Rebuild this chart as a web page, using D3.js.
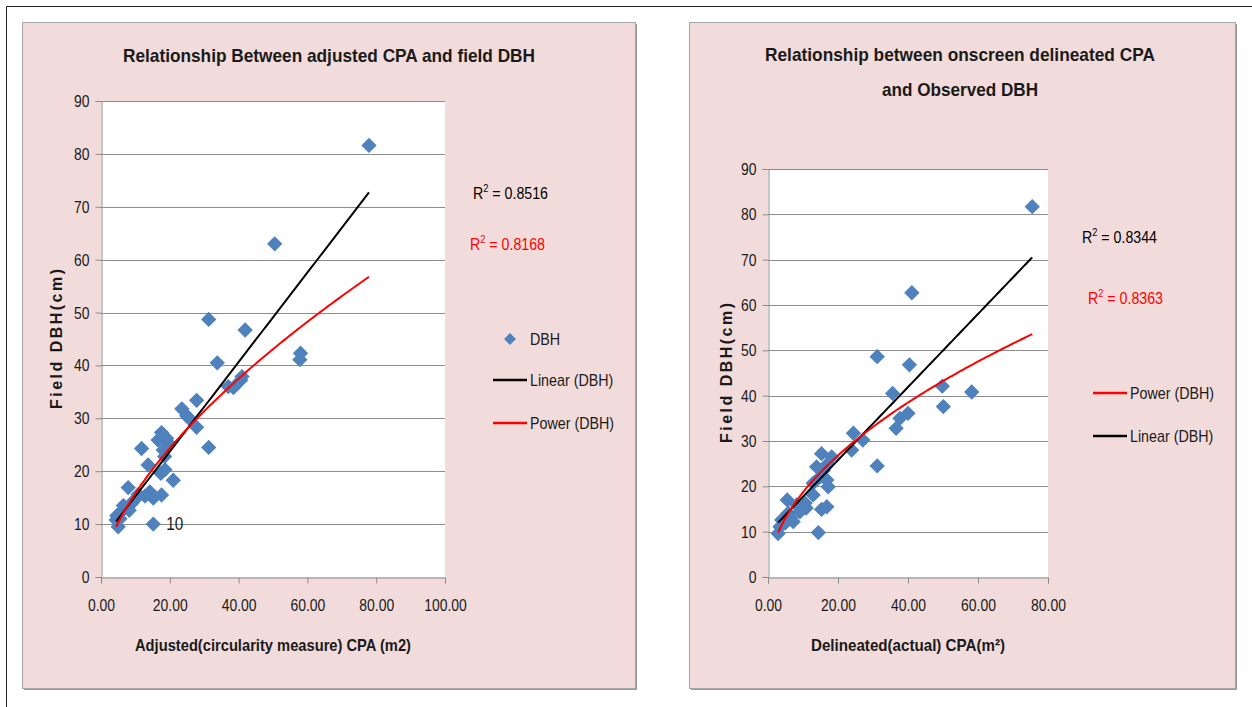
<!DOCTYPE html>
<html>
<head>
<meta charset="utf-8">
<script src="https://cdn.jsdelivr.net/npm/d3@7"></script>
<style>
  html, body { margin: 0; padding: 0; background: #ffffff; }
  svg { display: block; }
  text { font-family: "Liberation Sans", Arial, sans-serif; fill: #1a1a1a; }
</style>
</head>
<body>
<svg id="chart" width="1252" height="707"></svg>
<script>
// ---- Data: crown projection area (m2) vs DBH (cm) ----
const adjustedCPA = [77.9, 50.5, 31.3, 41.9, 33.8, 58.0, 57.8, 37.0, 38.5, 41.0, 40.6, 27.8, 23.5, 24.9,
  27.8, 31.3, 11.8, 17.6, 16.6, 19.1, 18.1, 13.7, 18.6, 17.4, 21.0, 7.9, 14.2, 17.6, 15.2, 12.8,
  10.8, 8.9, 7.0, 6.0, 4.6, 4.4, 5.0, 15.2, 18.5, 19.8, 8.2, 9.8, 6.5, 5.5, 25.6];
const adjustedDBH = [81.6, 63.0, 48.7, 46.7, 40.5, 42.3, 41.1, 36.0, 35.8, 37.9, 37.2, 33.4, 31.8, 30.5,
  28.3, 24.5, 24.3, 27.3, 25.9, 26.2, 24.0, 21.2, 20.3, 19.6, 18.3, 16.9, 16.1, 15.5, 14.9, 15.3,
  15.6, 13.9, 13.2, 12.4, 11.6, 10.8, 9.5, 10, 22.8, 25.2, 12.6, 14.6, 13.5, 11.0, 30.0];

const delineatedCPA = [75.5, 41.1, 31.2, 40.4, 49.8, 58.2, 35.6, 50.1, 40.0, 37.7, 36.6, 31.2, 27.1, 24.4,
  23.9, 15.3, 18.2, 13.9, 17.1, 14.9, 12.9, 16.8, 17.2, 12.9, 16.8, 15.3, 14.4, 5.5, 8.2, 10.6,
  10.9, 9.1, 7.2, 5.8, 3.9, 3.4, 2.9, 4.9, 15.8, 6.5];
const delineatedDBH = [81.7, 62.7, 48.6, 46.8, 42.1, 40.8, 40.5, 37.6, 36.1, 35.0, 32.8, 24.5, 30.2, 31.7,
  28.0, 27.2, 26.5, 24.3, 25.0, 22.1, 20.7, 21.4, 19.9, 18.1, 15.5, 14.9, 9.8, 17.0, 15.9, 16.3,
  15.2, 14.4, 12.2, 14.1, 12.6, 11.1, 9.6, 11.9, 23.5, 13.0];

// Fitted trend lines: linear [slope, intercept], power [coefficient, exponent]
const adjustedLinear = [0.846, 6.8];
const adjustedPower = [3.78, 0.622];
const delineatedLinear = [0.806, 9.66];
const delineatedPower = [5.63, 0.521];

// R squared values of the fits: [linear, power]
const adjustedR2 = ["0.8516", "0.8168"];
const delineatedR2 = ["0.8344", "0.8363"];

// Points carrying a data label (index into the series)
const adjustedLabelled = [37];

// Axis ticks
const dbhTicks = [0, 10, 20, 30, 40, 50, 60, 70, 80, 90];
const adjustedTicks = [0, 20, 40, 60, 80, 100];
const delineatedTicks = [0, 20, 40, 60, 80];

// ---- Styling ----
const PANEL_FILL = "#f2dcdb";
const GRID = "#8c8c8c";
const MARKER = "#4f81bd";
const LINEAR_C = "#000000";
const POWER_C = "#ff0000";

const svg = d3.select("#chart");

// squeeze a text element horizontally to a share of its natural width
function condense(sel, f) {
  sel.each(function () {
    const w = this.getComputedTextLength();
    d3.select(this).attr("textLength", (w * f).toFixed(1)).attr("lengthAdjust", "spacingAndGlyphs");
  });
}

// outer frame (left and top edges)
svg.append("path")
  .attr("d", "M6.5,707 L6.5,6.5 L1252,6.5")
  .attr("fill", "none").attr("stroke", "#222").attr("stroke-width", 1);

function drawPanel(cfg) {
  const g = svg.append("g");
  // shadow + panel
  g.append("rect").attr("x", cfg.panel[0] + 2).attr("y", cfg.panel[1] + 2)
    .attr("width", cfg.panel[2]).attr("height", cfg.panel[3]).attr("fill", "#9a9a9a");
  g.append("rect").attr("x", cfg.panel[0] + 0.5).attr("y", cfg.panel[1] + 0.5)
    .attr("width", cfg.panel[2]).attr("height", cfg.panel[3])
    .attr("fill", PANEL_FILL).attr("stroke", "#a6a6a6");

  const x = d3.scaleLinear().domain(cfg.xDomain).range([cfg.plot[0], cfg.plot[2]]);
  const y = d3.scaleLinear().domain([0, 90]).range([cfg.plot[3], cfg.plot[1]]);

  // plot area
  g.append("rect").attr("x", cfg.plot[0]).attr("y", cfg.plot[1])
    .attr("width", cfg.plot[2] - cfg.plot[0]).attr("height", cfg.plot[3] - cfg.plot[1])
    .attr("fill", "#ffffff");

  // gridlines
  g.append("g").selectAll("line").data(dbhTicks.filter(d => d > 0)).join("line")
    .attr("x1", cfg.plot[0]).attr("x2", cfg.plot[2])
    .attr("y1", d => Math.round(y(d)) + 0.5).attr("y2", d => Math.round(y(d)) + 0.5)
    .attr("stroke", GRID).attr("stroke-width", 1);

  // y axis
  const yAxis = g.append("g").attr("transform", `translate(${cfg.plot[0] + 0.5},0)`)
    .call(d3.axisLeft(y).tickValues(dbhTicks).tickSize(6).tickPadding(6).tickFormat(d3.format("d")));
  // x axis
  const xAxis = g.append("g").attr("transform", `translate(0,${Math.round(y(0)) + 0.5})`)
    .call(d3.axisBottom(x).tickValues(cfg.xTicks).tickSize(6).tickPadding(15).tickFormat(d3.format(".2f")));
  [yAxis, xAxis].forEach(a => {
    a.select(".domain").attr("stroke", GRID);
    a.selectAll(".tick line").attr("stroke", GRID);
    a.selectAll(".tick text").attr("fill", "#1a1a1a").style("font-size", "17px")
      .style("font-family", "'Liberation Sans', Arial, sans-serif")
      .call(condense, 0.82);
  });

  // trend lines
  const [xmin, xmax] = d3.extent(cfg.xs);
  const samples = d3.range(0, 121).map(i => xmin + (xmax - xmin) * i / 120);
  const line = d3.line().x(d => x(d[0])).y(d => y(d[1]));
  const lin = samples.map(v => [v, cfg.linear[0] * v + cfg.linear[1]]);
  const pow = samples.map(v => [v, cfg.power[0] * Math.pow(v, cfg.power[1])]);

  const pts = cfg.xs.map((v, i) => ({ x: v, y: cfg.ys[i], i }));
  const diamond = d3.symbol().type(d3.symbolDiamond2).size(150);

  g.append("g").selectAll("path").data(pts).join("path")
    .attr("d", diamond)
    .attr("transform", d => `translate(${x(d.x)},${y(d.y)})`)
    .attr("fill", MARKER);

  g.append("path").datum(lin).attr("d", line).attr("fill", "none")
    .attr("stroke", LINEAR_C).attr("stroke-width", 2);
  g.append("path").datum(pow).attr("d", line).attr("fill", "none")
    .attr("stroke", POWER_C).attr("stroke-width", 2);

  // data labels
  g.append("g").selectAll("text").data(cfg.labelled.map(i => pts[i])).join("text")
    .attr("x", d => x(d.x) + 13).attr("y", d => y(d.y) + 6)
    .style("font-size", "18px").text(d => d3.format("d")(d.y))
    .call(condense, 0.85);

  // title
  cfg.title.forEach((t, k) => {
    g.append("text").attr("text-anchor", "middle")
      .attr("x", cfg.titlePos[0]).attr("y", cfg.titlePos[1] + k * 35)
      .style("font-size", "19px").style("font-weight", "bold")
      .attr("textLength", cfg.titleLen[k]).attr("lengthAdjust", "spacingAndGlyphs")
      .text(t);
  });

  // axis titles
  g.append("text").attr("text-anchor", "middle")
    .attr("x", (cfg.plot[0] + cfg.plot[2]) / 2).attr("y", 651)
    .style("font-size", "17px").style("font-weight", "bold")
    .attr("textLength", cfg.xTitleLen).attr("lengthAdjust", "spacingAndGlyphs")
    .text(cfg.xTitle);
  g.append("text").attr("text-anchor", "middle")
    .attr("transform", `translate(${cfg.yTitleX},${(cfg.plot[1] + cfg.plot[3]) / 2}) rotate(-90)`)
    .style("font-size", "16px").style("font-weight", "bold")
    .attr("textLength", 140).attr("lengthAdjust", "spacing")
    .text("Field DBH(cm)");

  // R squared labels
  const r2 = [[cfg.r2[0], LINEAR_C, cfg.r2Pos[0]], [cfg.r2[1], POWER_C, cfg.r2Pos[1]]];
  r2.forEach(([val, col, pos]) => {
    const t = g.append("text").attr("x", pos[0]).attr("y", pos[1])
      .style("font-size", "17px").style("fill", col);
    t.append("tspan").text("R");
    t.append("tspan").attr("dy", -7).style("font-size", "11px").text("2");
    t.append("tspan").attr("dy", 7).text(" = " + val);
    t.attr("textLength", 75).attr("lengthAdjust", "spacingAndGlyphs");
  });

  // legend
  cfg.legend.forEach(item => {
    let label;
    if (item.type === "marker") {
      g.append("path").attr("d", d3.symbol().type(d3.symbolDiamond2).size(90))
        .attr("transform", `translate(${item.pos[0]},${item.pos[1]})`).attr("fill", MARKER);
      label = g.append("text").attr("x", item.pos[0] + 20).attr("y", item.pos[1] + 6);
    } else {
      g.append("line").attr("x1", item.pos[0]).attr("x2", item.pos[0] + 34)
        .attr("y1", item.pos[1]).attr("y2", item.pos[1])
        .attr("stroke", item.color).attr("stroke-width", 2.5);
      label = g.append("text").attr("x", item.pos[0] + 37).attr("y", item.pos[1] + 6);
    }
    label.style("font-size", "17px").text(item.label).call(condense, 0.84);
  });
}

drawPanel({
  panel: [22, 22, 613, 666],
  plot: [101, 101, 445, 577],
  xDomain: [0, 100],
  xTicks: adjustedTicks,
  xs: adjustedCPA, ys: adjustedDBH,
  linear: adjustedLinear, power: adjustedPower,
  labelled: adjustedLabelled,
  title: ["Relationship Between adjusted CPA and  field DBH"],
  titleLen: [412],
  titlePos: [329, 62],
  xTitle: "Adjusted(circularity measure) CPA (m2)",
  xTitleLen: 276,
  yTitleX: 62,
  r2: adjustedR2,
  r2Pos: [[473, 199], [470, 250]],
  legend: [
    { type: "marker", pos: [510, 339], label: "DBH" },
    { type: "line", pos: [493, 380], color: LINEAR_C, label: "Linear (DBH)" },
    { type: "line", pos: [493, 423], color: POWER_C, label: "Power (DBH)" }
  ]
});

drawPanel({
  panel: [689, 22, 546, 666],
  plot: [768, 169, 1048, 577],
  xDomain: [0, 80],
  xTicks: delineatedTicks,
  xs: delineatedCPA, ys: delineatedDBH,
  linear: delineatedLinear, power: delineatedPower,
  labelled: [],
  title: ["Relationship between onscreen delineated CPA", "and Observed DBH"],
  titleLen: [390, 156],
  titlePos: [960, 61],
  xTitle: "Delineated(actual) CPA(m²)",
  xTitleLen: 194,
  yTitleX: 732,
  r2: delineatedR2,
  r2Pos: [[1082, 243], [1088, 304]],
  legend: [
    { type: "line", pos: [1093, 393], color: POWER_C, label: "Power (DBH)" },
    { type: "line", pos: [1093, 436], color: LINEAR_C, label: "Linear (DBH)" }
  ]
});
</script>
</body>
</html>
